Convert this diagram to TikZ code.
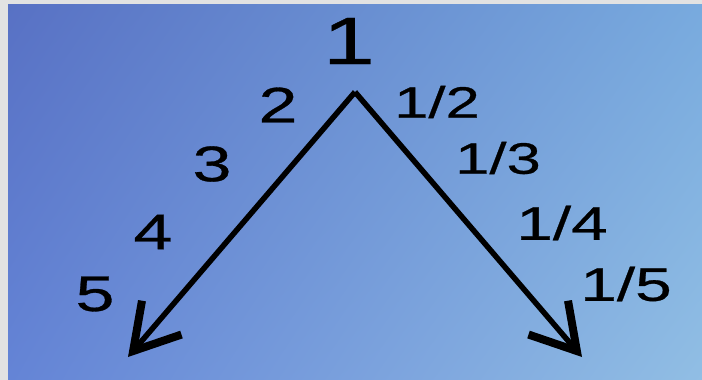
\documentclass[tikz,border=0pt]{standalone}
\usepackage{fontspec}
\setmainfont{Liberation Sans}
\newfontfamily\lblfont{Liberation Sans}[FakeStretch=1.4,FakeBold=0.6]
\usetikzlibrary{arrows.meta,shadings}
\definecolor{frame}{RGB}{226,226,226}
\definecolor{bgul}{RGB}{88,113,196}
\definecolor{bgur}{RGB}{120,170,222}
\definecolor{bgll}{RGB}{100,132,214}
\definecolor{bglr}{RGB}{145,190,228}

\begin{document}
\begin{tikzpicture}[x=1pt,y=-1pt,
    arm/.style={line width=5.5pt,-{Straight Barb[length=44pt,width=52pt,line width=8pt]}},
    num/.style={inner sep=0pt,font=\lblfont\fontsize{50}{50}\selectfont},
    frac/.style={inner sep=0pt,font=\lblfont\fontsize{44}{44}\selectfont}]
  \fill[frame] (0,0) rectangle (702,380);
  \shade[upper left=bgul,upper right=bgur,lower left=bgll,lower right=bglr]
    (8,4) rectangle (702,380);
  \useasboundingbox (0,0) rectangle (702,380);
  % apex and tips
  \coordinate (top) at (355,92);
  \coordinate (lt) at (128,357);
  \coordinate (rt) at (582,357);
  \draw[arm] (top) -- (lt);
  \draw[arm] (top) -- (rt);
  % labels
  \node[num,font=\lblfont\fontsize{67}{67}\selectfont] (one) at (349,41) {1};
  \node[num] (two) at (278,105) {2};
  \node[num] (three) at (212,164) {3};
  \node[num] (four) at (153,232) {4};
  \node[num] (five) at (95,294) {5};
  \node[frac] (half) at (437,102) {1/2};
  \node[frac] (third) at (498,158) {1/3};
  \node[frac,font=\lblfont\fontsize{47}{47}\selectfont] (quarter) at (562,223) {1/4};
  \node[frac,font=\lblfont\fontsize{47}{47}\selectfont] (fifth) at (626,284) {1/5};
\end{tikzpicture}
\end{document}
